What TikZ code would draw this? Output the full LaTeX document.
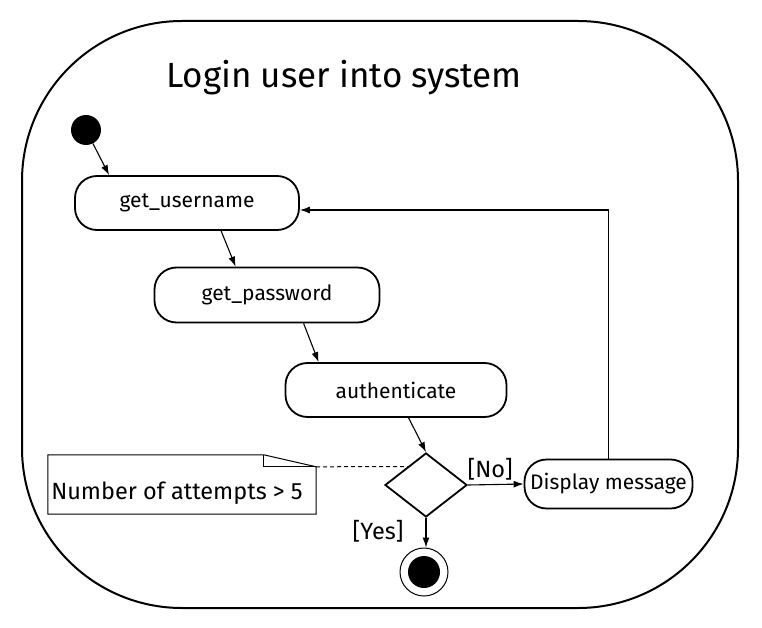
\documentclass[tikz,border=0pt]{standalone}
\usepackage{fontspec}
\setmainfont{Fira Sans}
\usetikzlibrary{arrows.meta,shapes.geometric,calc}
\tikzset{
  act/.style={draw, line width=1.8pt, rounded corners=22pt, inner sep=0pt,
    font=\fontsize{21}{24}\selectfont},
  arr/.style={line width=1.1pt, -{Latex[length=10pt,width=7pt]}},
  lbl/.style={font=\fontsize{23.5}{27}\selectfont, inner sep=0pt},
}
\begin{document}
\begin{tikzpicture}[x=1pt,y=-1pt]
\useasboundingbox (0,0) rectangle (762,628);
\draw[line width=2pt, rounded corners=160pt] (22,21) rectangle (738,608);
\node[inner sep=0pt, font=\fontsize{35}{40}\selectfont] (title) at (344,78) {Login user into system};

\node[circle, fill=black, minimum size=30pt, inner sep=0pt] (init) at (86,130) {};
\node[act, minimum width=224pt, minimum height=54pt] (gu) at (187,203) {get\_username};
\node[act, minimum width=225pt, minimum height=55pt] (gp) at (267,295) {get\_password};
\node[act, minimum width=221pt, minimum height=54pt] (au) at (396,390) {authenticate};
\node[diamond, draw, line width=1.8pt, minimum width=82pt, minimum height=64pt, inner sep=0pt] (dia) at (426,485) {};
\node[act, minimum width=168pt, minimum height=49pt, rounded corners=22pt] (dm) at (608.5,484) {Display message};
\node[circle, draw, line width=1pt, minimum size=48pt, inner sep=0pt] (fin) at (424,572) {};
\node[circle, fill=black, minimum size=32pt, inner sep=0pt] at (fin.center) {};

% note
\node[minimum width=268pt, minimum height=59pt, inner sep=0pt] (note) at (182,484.5) {};
\node[lbl, anchor=center] (notetext) at (177,493) {Number of attempts > 5};
\draw[line width=1pt] (note.north west) -- ++(216,0) coordinate (fold) -- ([yshift=-12pt]note.north east) coordinate (corner) -- (note.south east) -- (note.south west) -- cycle;
\draw[line width=1pt] (fold) -- ++(0,12) -- (corner);
\coordinate (dtarget) at ($(dia.west)!0.56!(dia.north)$);
\draw[line width=1pt, dashed, dash pattern=on 4pt off 3pt] (corner) -- (dtarget);

\draw[arr] (init) -- ([xshift=35pt]gu.north west);
\draw[arr] ([xshift=147pt]gu.south west) -- ([xshift=82pt]gp.north west);
\draw[arr] ([xshift=150pt]gp.south west) -- ([xshift=34pt]au.north west);
\draw[arr] ([xshift=124pt]au.south west) -- (dia.north);
\draw[arr] (dia.east) -- (dm.west) node[lbl, pos=0.4, above=4pt] (no) {[No]};
\draw[arr] (dia.south) -- ([xshift=2pt]fin.north);
\node[lbl] (yes) at (378,531) {[Yes]};
\draw[arr] (dm.north) |- ([yshift=-7pt]gu.east);
\end{tikzpicture}
\end{document}
